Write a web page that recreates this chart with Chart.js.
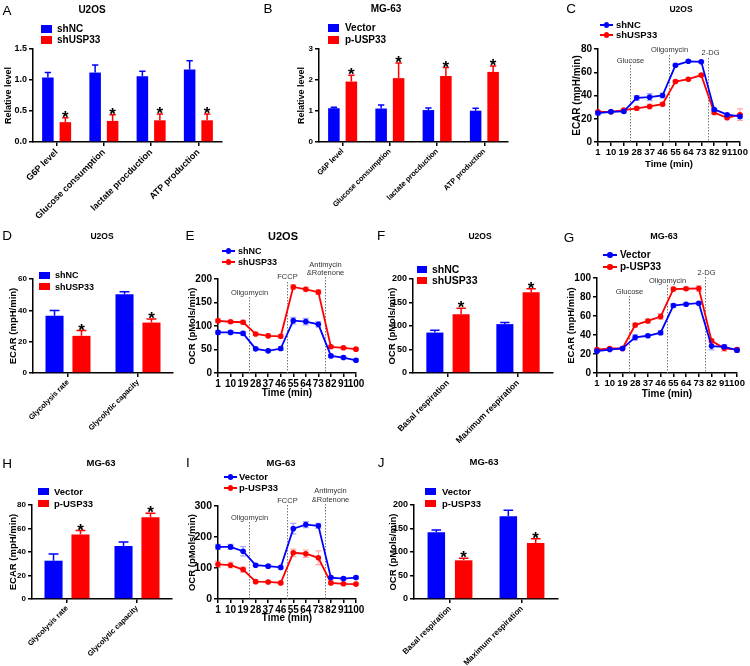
<!DOCTYPE html>
<html><head><meta charset="utf-8">
<script src="https://cdn.jsdelivr.net/npm/chart.js@4/dist/chart.umd.min.js"></script>
<style>
body{margin:0;width:750px;height:666px;position:relative;background:#fff;overflow:hidden;font-family:'Liberation Sans',Arial,Helvetica,sans-serif}
canvas{position:absolute;left:0;top:0}
.t{position:absolute;white-space:nowrap;line-height:1;color:#000}
.b{position:absolute}
</style></head><body>
<script>
// ---------------- DATA ----------------
const times = [1, 10, 19, 28, 37, 46, 55, 64, 73, 82, 91, 100];
const injectionTimes = [23.5, 50.5, 77.5];
const ecarInjections = [['Glucose'], ['Oligomycin'], ['2-DG']];
const ocrInjections = [['Oligomycin'], ['FCCP'], ['Antimycin', '&Rotenone']];

const metabCats = ['G6P level', 'Glucose consumption', 'lactate procduction', 'ATP production'];
const glycoCats = ['Glycolysis rate', 'Glycolytic capacity'];
const respCats = ['Basal respiration', 'Maximum respiration'];

const u2osGroups = ['shNC', 'shUSP33'];
const mg63Groups = ['Vector', 'p-USP33'];

// A
const A_shNC = [1.04, 1.12, 1.06, 1.17];
const A_shNC_err = [0.08, 0.12, 0.08, 0.14];
const A_shUSP33 = [0.32, 0.34, 0.35, 0.35];
const A_shUSP33_err = [0.07, 0.10, 0.10, 0.10];
// B
const B_Vector = [1.09, 1.08, 1.03, 1.01];
const B_Vector_err = [0.03, 0.11, 0.07, 0.08];
const B_pUSP33 = [1.95, 2.06, 2.13, 2.26];
const B_pUSP33_err = [0.20, 0.49, 0.27, 0.19];
// C
const C_shNC = [24.9, 26.0, 26.3, 38.0, 38.6, 40.0, 66.0, 69.4, 69.0, 28.0, 23.5, 22.0];
const C_shNC_err = [1.5, 1, 1, 2, 3, 2, 1, 1, 1, 1, 1, 2];
const C_shUSP33 = [26.0, 26.0, 27.5, 29.0, 30.6, 32.5, 52.0, 54.0, 57.5, 25.4, 20.8, 23.5];
const C_shUSP33_err = [1, 1, 1, 1.5, 2, 1.5, 1, 1, 1, 1, 1, 5];
// D
const D_shNC = [36.5, 50.2];
const D_shNC_err = [3.4, 1.7];
const D_shUSP33 = [23.7, 32.2];
const D_shUSP33_err = [3.4, 2.2];
// E
const E_shNC = [86.4, 86.4, 84.3, 51.4, 47.1, 52.0, 111.4, 109.3, 103.6, 36.4, 32.9, 27.1];
const E_shNC_err = [4, 4, 4, 3, 3, 4, 7, 7, 6, 3, 3, 3];
const E_shUSP33 = [111, 109, 108, 83, 79, 78, 183, 178, 172, 55.7, 53.6, 50.7];
const E_shUSP33_err = [4, 3, 4, 3, 4, 4, 5, 4, 5, 3, 3, 3];
// F
const F_shNC = [86, 104];
const F_shNC_err = [5, 3.5];
const F_shUSP33 = [125, 172];
const F_shUSP33_err = [13, 7];
// G
const G_Vector = [23.0, 24.7, 25.8, 37.5, 39.2, 42.4, 71.0, 72.4, 73.5, 28.3, 27.6, 24.0];
const G_Vector_err = [1, 1, 1, 3, 1.5, 2, 2, 1.5, 1.5, 4, 2, 2];
const G_pUSP33 = [24.7, 25.8, 25.8, 50.5, 54.8, 59.4, 88.3, 88.7, 89.0, 33.9, 26.0, 24.7];
const G_pUSP33_err = [1, 1, 1, 2, 2, 3, 2, 1.5, 3, 2, 3, 1.5];
// H
const H_Vector = [32.6, 45.1];
const H_Vector_err = [5.7, 3.4];
const H_pUSP33 = [55.0, 69.5];
const H_pUSP33_err = [3.2, 3.4];
// I
const I_Vector = [168, 168, 154, 109, 106, 102, 227, 240, 236, 69, 66, 69];
const I_Vector_err = [8, 8, 15, 4, 5, 4, 17, 10, 8, 4, 4, 4];
const I_pUSP33 = [112, 109, 95, 56, 55, 52, 149, 146, 133, 52, 49, 48];
const I_pUSP33_err = [10, 9, 8, 4, 3, 3, 12, 12, 22, 5, 3, 3];
// J
const J_Vector = [141.8, 175.9];
const J_Vector_err = [5, 12.8];
const J_pUSP33 = [82.3, 119.1];
const J_pUSP33_err = [4.2, 9.3];

// ---------------- STYLE / LAYOUT ----------------
const BLUE = '#0000FF', RED = '#FF0000';
const FONT = "'Liberation Sans', Arial, Helvetica, sans-serif";
Chart.defaults.font.family = FONT;
Chart.defaults.font.weight = 'bold';
Chart.defaults.color = '#000';

function ser(names, vals, errs) {
  return names.map((n, i) => ({name: n, values: vals[i], err: errs[i], color: i === 0 ? BLUE : RED}));
}

const panels = [
  {letter: 'A', lp: [7, 10.5], title: 'U2OS', tp: [92, 10], ts: 10,
   type: 'bar', rect: [33, 49, 222, 142], y: [0, 1.5, 0.5], yDec: 1, yTitle: 'Relative level', yTitleX: 9, yTitleSize: 9,
   yTickSize: 9, xTickSize: 9, cats: metabCats, cp: 0.74, bp: 0.66, star: 1,
   series: ser(u2osGroups, [A_shNC, A_shUSP33], [A_shNC_err, A_shUSP33_err]),
   leg: {kind: 'box', x: 41, w: 11, h: 8, rows: [29, 40], tx: 57, size: 10}},
  {letter: 'B', lp: [268, 9], title: 'MG-63', tp: [386, 9], ts: 10,
   type: 'bar', rect: [319, 49, 508, 142], y: [0, 3, 1], yDec: 0, yTitle: 'Relative level', yTitleX: 302, yTitleSize: 9,
   yTickSize: 8, xTickSize: 7.5, cats: metabCats, cp: 0.74, bp: 0.66, star: 1,
   series: ser(mg63Groups, [B_Vector, B_pUSP33], [B_Vector_err, B_pUSP33_err]),
   leg: {kind: 'box', x: 328, w: 11, h: 8, rows: [28, 39.5], tx: 345, size: 10}},
  {letter: 'C', lp: [571, 9], title: 'U2OS', tp: [681, 9], ts: 8.5,
   type: 'line', rect: [598, 49, 740, 142], y: [0, 80, 20], yDec: 0, yTitle: 'ECAR (mpH/min)', yTitleX: 577, yTitleSize: 10,
   yTickSize: 10, xTickSize: 9.5, xTitleY: 164, xTitleSize: 9.5,
   marks: ecarInjections, markPos: [{ty: [12], line: 16, dx: 0}, {ty: [1], line: 6, dx: 0}, {ty: [4], line: 9, dx: 2}], markSize: 7.5,
   series: ser(u2osGroups, [C_shNC, C_shUSP33], [C_shNC_err, C_shUSP33_err]),
   leg: {kind: 'line', x: 600, w: 13, rows: [25, 35], tx: 616, size: 9.5}},
  {letter: 'D', lp: [7, 236], title: 'U2OS', tp: [102, 235.5], ts: 8.5,
   type: 'bar', rect: [33, 279, 173, 373], y: [0, 60, 20], yDec: 0, yTitle: 'ECAR (mpH/min)', yTitleX: 13, yTitleSize: 9.5,
   yTickSize: 8, xTickSize: 7.5, cats: glycoCats, cp: 0.77, bp: 0.67, star: 1,
   series: ser(u2osGroups, [D_shNC, D_shUSP33], [D_shNC_err, D_shUSP33_err]),
   leg: {kind: 'box', x: 39, w: 11, h: 7, rows: [275, 286.5], tx: 55, size: 9}},
  {letter: 'E', lp: [190, 236], title: 'U2OS', tp: [283, 236], ts: 11,
   type: 'line', rect: [218, 279, 356, 373], y: [0, 200, 50], yDec: 0, yTitle: 'OCR (pMols/min)', yTitleX: 192, yTitleSize: 9.5,
   yTickSize: 10, xTickSize: 10, xTitleY: 393, xTitleSize: 10,
   marks: ocrInjections, markPos: [{ty: [14], line: 18, dx: 0}, {ty: [-2], line: 3, dx: 0}, {ty: [-14, -6], line: -2, dx: 0}], markSize: 7.5,
   series: ser(u2osGroups, [E_shNC, E_shUSP33], [E_shNC_err, E_shUSP33_err]),
   leg: {kind: 'line', x: 222, w: 13, rows: [251, 262], tx: 238, size: 9}},
  {letter: 'F', lp: [381, 236], title: 'U2OS', tp: [480, 235.5], ts: 8.5,
   type: 'bar', rect: [413, 279, 553, 373], y: [0, 200, 50], yDec: 0, yTitle: 'OCR (pMols/min)', yTitleX: 392, yTitleSize: 9.5,
   yTickSize: 9, xTickSize: 8.5, cats: respCats, cp: 0.75, bp: 0.65, star: 1,
   series: ser(u2osGroups, [F_shNC, F_shUSP33], [F_shNC_err, F_shUSP33_err]),
   leg: {kind: 'box', x: 417, w: 10, h: 7, rows: [269, 280], tx: 432, size: 10.5}},
  {letter: 'G', lp: [569, 237.5], title: 'MG-63', tp: [664, 235.5], ts: 9,
   type: 'line', rect: [597, 278, 737, 373], y: [0, 100, 20], yDec: 0, yTitle: 'ECAR (mpH/min)', yTitleX: 571, yTitleSize: 9.5,
   yTickSize: 10, xTickSize: 9.5, xTitleY: 394, xTitleSize: 10,
   marks: ecarInjections, markPos: [{ty: [14], line: 18, dx: 0}, {ty: [3], line: 7, dx: 0}, {ty: [-5], line: -1, dx: 1}], markSize: 7.5,
   series: ser(mg63Groups, [G_Vector, G_pUSP33], [G_Vector_err, G_pUSP33_err]),
   leg: {kind: 'line', x: 603, w: 14, rows: [255, 267], tx: 620, size: 10}},
  {letter: 'H', lp: [7, 464], title: 'MG-63', tp: [101, 463], ts: 9.5,
   type: 'bar', rect: [32, 505, 172, 599], y: [0, 80, 20], yDec: 0, yTitle: 'ECAR (mpH/min)', yTitleX: 13, yTitleSize: 9.5,
   yTickSize: 8, xTickSize: 7.5, cats: glycoCats, cp: 0.77, bp: 0.67, star: 1,
   series: ser(mg63Groups, [H_Vector, H_pUSP33], [H_Vector_err, H_pUSP33_err]),
   leg: {kind: 'box', x: 38, w: 11, h: 7, rows: [491.5, 503.5], tx: 54, size: 9.5}},
  {letter: 'I', lp: [188, 463], title: 'MG-63', tp: [281, 462.5], ts: 9.5,
   type: 'line', rect: [218, 506, 356, 599], y: [0, 300, 100], yDec: 0, yTitle: 'OCR (pMols/min)', yTitleX: 192, yTitleSize: 9.5,
   yTickSize: 10.5, xTickSize: 10, xTitleY: 618, xTitleSize: 10,
   marks: ocrInjections, markPos: [{ty: [12], line: 16, dx: 0}, {ty: [-5], line: -1, dx: 0}, {ty: [-15, -6], line: -2, dx: 5}], markSize: 7.5,
   series: ser(mg63Groups, [I_Vector, I_pUSP33], [I_Vector_err, I_pUSP33_err]),
   leg: {kind: 'line', x: 224, w: 13, rows: [477, 488], tx: 239, size: 9.5}},
  {letter: 'J', lp: [381, 463], title: 'MG-63', tp: [484, 461.5], ts: 9.5,
   type: 'bar', rect: [414, 505, 558, 599], y: [0, 200, 50], yDec: 0, yTitle: 'OCR (pMols/min)', yTitleX: 393, yTitleSize: 9.5,
   yTickSize: 9, xTickSize: 8, cats: respCats, cp: 0.76, bp: 0.64, star: 1,
   series: ser(mg63Groups, [J_Vector, J_pUSP33], [J_Vector_err, J_pUSP33_err]),
   leg: {kind: 'box', x: 425, w: 11, h: 7, rows: [491.5, 503.5], tx: 442, size: 9.5}}
];

// ---------------- HELPERS ----------------
function addText(str, x, y, size, weight, align) {
  const d = document.createElement('div');
  d.className = 't';
  d.textContent = str;
  d.style.left = x + 'px';
  d.style.top = y + 'px';
  d.style.fontSize = size + 'px';
  d.style.fontWeight = weight;
  d.style.transform = align === 'center' ? 'translate(-50%,-50%)' : 'translate(0,-50%)';
  document.body.appendChild(d);
}
function addBox(x, y, w, h, color, round) {
  const d = document.createElement('div');
  d.className = 'b';
  d.style.left = x + 'px'; d.style.top = y + 'px';
  d.style.width = w + 'px'; d.style.height = h + 'px';
  d.style.background = color;
  if (round) d.style.borderRadius = '50%';
  document.body.appendChild(d);
}
function rgba(hex, a) {
  const n = parseInt(hex.slice(1), 16);
  return `rgba(${(n >> 16) & 255},${(n >> 8) & 255},${n & 255},${a})`;
}

function makePanel(p) {
  const [L, T, R, B] = p.rect;
  const canvas = document.createElement('canvas');
  canvas.width = 750; canvas.height = 666;
  canvas.style.width = '750px'; canvas.style.height = '666px';
  document.body.appendChild(canvas);

  const padL = p.yTitleX - p.yTitleSize * 1.2 / 2;
  const yW = L - padL;
  const xH = p.type === 'line' ? (p.xTitleY - B + p.xTitleSize * 1.2 / 2) : Math.min(90, 666 - B);
  const padB = 666 - B - xH;

  const datasets = p.series.map(s => {
    const base = {label: s.name, backgroundColor: s.color, borderColor: s.color, clip: false};
    if (p.type === 'bar') {
      return Object.assign(base, {data: s.values, categoryPercentage: p.cp, barPercentage: p.bp, borderWidth: 0});
    }
    return Object.assign(base, {
      data: times.map((t, i) => ({x: t, y: s.values[i]})),
      borderWidth: 1.8, pointRadius: 2.8, pointHoverRadius: 2.8, pointBorderWidth: 0, tension: 0
    });
  });

  const axisCommon = {
    grid: {drawOnChartArea: false, drawTicks: true, tickLength: 4, color: '#000', lineWidth: 1.5},
    border: {display: true, color: '#000', width: 1.5}
  };

  const yScale = Object.assign({}, axisCommon, {
    type: 'linear', min: p.y[0], max: p.y[1],
    ticks: {stepSize: p.y[2], font: {size: p.yTickSize, weight: 'bold'}, padding: 2, color: '#000',
            callback: v => p.yDec ? Number(v).toFixed(p.yDec) : v},
    title: {display: true, text: p.yTitle, font: {size: p.yTitleSize, weight: 'bold'}, padding: 0, color: '#000'},
    afterFit: s => { s.width = yW; }
  });

  let xScale;
  if (p.type === 'bar') {
    xScale = Object.assign({}, axisCommon, {
      type: 'category', offset: true,
      grid: Object.assign({}, axisCommon.grid, {offset: false}),
      ticks: {font: {size: p.xTickSize, weight: 'bold'}, minRotation: 45, maxRotation: 45, autoSkip: false, padding: 1, color: '#000'},
      afterFit: s => { s.height = xH; }
    });
  } else {
    xScale = Object.assign({}, axisCommon, {
      type: 'linear', min: times[0], max: times[times.length - 1],
      afterBuildTicks: s => { s.ticks = times.map(v => ({value: v})); },
      ticks: {font: {size: p.xTickSize, weight: 'bold'}, autoSkip: false, minRotation: 0, maxRotation: 0, padding: 1, color: '#000'},
      title: {display: true, text: 'Time (min)', font: {size: p.xTitleSize, weight: 'bold'}, padding: 0, color: '#000'},
      afterFit: s => { s.height = xH; }
    });
  }

  const extras = {
    id: 'extras' + p.letter,
    beforeDatasetsDraw(chart) {
      if (p.type !== 'line') return;
      const ctx = chart.ctx, xs = chart.scales.x, ys = chart.scales.y;
      const top = chart.chartArea.top, bot = chart.chartArea.bottom;
      ctx.save();
      p.marks.forEach((lines, i) => {
        const pos = p.markPos[i];
        const x = Math.round(xs.getPixelForValue(injectionTimes[i])) + 0.5;
        ctx.strokeStyle = '#777'; ctx.lineWidth = 1; ctx.setLineDash([1.5, 1.5]);
        ctx.beginPath(); ctx.moveTo(x, top + pos.line); ctx.lineTo(x, bot); ctx.stroke();
        ctx.setLineDash([]);
        ctx.fillStyle = '#333';
        ctx.font = `normal ${p.markSize}px ${FONT}`;
        ctx.textAlign = 'center'; ctx.textBaseline = 'middle';
        lines.forEach((ln, j) => ctx.fillText(ln, x + pos.dx, top + pos.ty[j]));
      });
      p.series.forEach((s, di) => {
        const meta = chart.getDatasetMeta(di);
        ctx.strokeStyle = rgba(s.color, 0.35); ctx.lineWidth = 1.2;
        meta.data.forEach((el, i) => {
          const v = s.values[i], e = s.err[i];
          const y1 = ys.getPixelForValue(v + e), y2 = ys.getPixelForValue(v - e);
          ctx.beginPath();
          ctx.moveTo(el.x, y1); ctx.lineTo(el.x, y2);
          ctx.moveTo(el.x - 3, y1); ctx.lineTo(el.x + 3, y1);
          ctx.moveTo(el.x - 3, y2); ctx.lineTo(el.x + 3, y2);
          ctx.stroke();
        });
      });
      ctx.restore();
    },
    afterDatasetsDraw(chart) {
      if (p.type !== 'bar') return;
      const ctx = chart.ctx, ys = chart.scales.y;
      ctx.save();
      p.series.forEach((s, di) => {
        const meta = chart.getDatasetMeta(di);
        meta.data.forEach((el, i) => {
          const yt = ys.getPixelForValue(s.values[i] + s.err[i]);
          const cw = el.width * 0.55;
          ctx.strokeStyle = s.color; ctx.lineWidth = 1.5;
          ctx.beginPath();
          ctx.moveTo(el.x, el.y); ctx.lineTo(el.x, yt);
          ctx.moveTo(el.x - cw / 2, yt); ctx.lineTo(el.x + cw / 2, yt);
          ctx.stroke();
          if (di === p.star) {
            const fs = 17;
            ctx.fillStyle = '#000';
            ctx.font = `bold ${fs}px ${FONT}`;
            ctx.textAlign = 'center'; ctx.textBaseline = 'alphabetic';
            ctx.fillText('*', el.x, yt - 2 + fs * 0.42);
          }
        });
      });
      ctx.restore();
    }
  };

  new Chart(canvas, {
    type: p.type,
    data: {labels: p.type === 'bar' ? p.cats : undefined, datasets},
    options: {
      responsive: false, animation: false, devicePixelRatio: 1, events: [],
      layout: {padding: {left: padL, top: T, right: 750 - R, bottom: padB}},
      plugins: {legend: {display: false}, tooltip: {enabled: false}},
      scales: {x: xScale, y: yScale}
    },
    plugins: [extras]
  });

  // decorations (real text)
  addText(p.letter, p.lp[0], p.lp[1], 13.5, 'normal', 'center');
  addText(p.title, p.tp[0], p.tp[1], p.ts, 'bold', 'center');
  const lg = p.leg;
  p.series.forEach((s, i) => {
    const cy = lg.rows[i];
    if (lg.kind === 'box') {
      addBox(lg.x, cy - lg.h / 2, lg.w, lg.h, s.color, false);
    } else {
      addBox(lg.x, cy - 0.9, lg.w, 1.8, s.color, false);
      addBox(lg.x + lg.w / 2 - 2.8, cy - 2.8, 5.6, 5.6, s.color, true);
    }
    addText(s.name, lg.tx, cy, lg.size, 'bold', 'left');
  });
}

panels.forEach(makePanel);
</script>
</body></html>
